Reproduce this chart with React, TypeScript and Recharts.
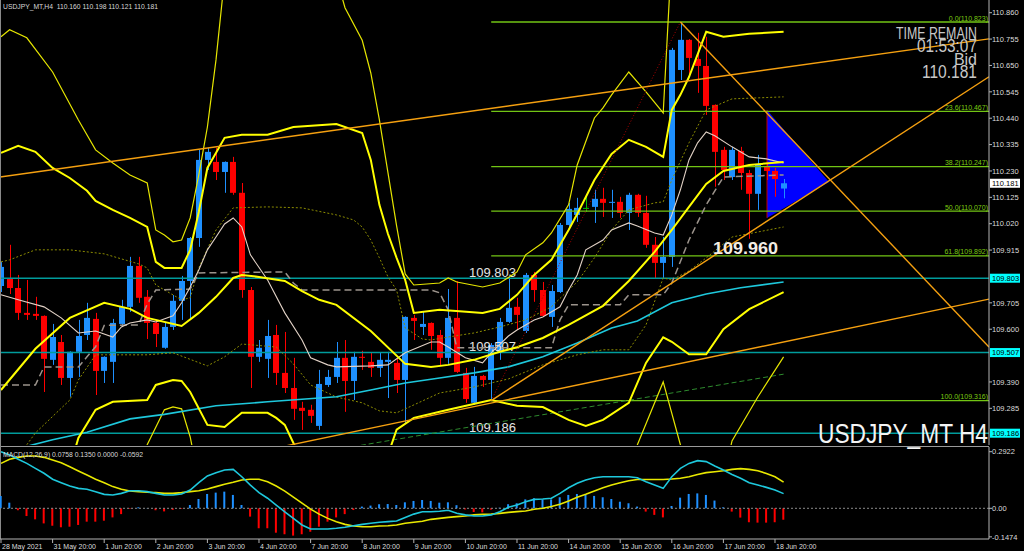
import React from "react";
import { Bar, Cell, ComposedChart, Line, ReferenceArea, ReferenceLine, XAxis, YAxis } from "recharts";

const SANS = "'Liberation Sans', Arial, sans-serif";

// H4 candles, bar 0 = 28 May 2021, bar 90 = 18 Jun 20:00
const opens = [
  109.772, 109.800, 109.764, 109.665, 109.661, 109.653, 109.478, 109.549, 109.406, 109.510,
  109.577, 109.641, 109.434, 109.470, 109.621, 109.689, 109.852, 109.729, 109.625, 109.526,
  109.609, 109.713, 109.792, 109.963, 110.274, 110.266, 110.226, 110.266, 110.143, 109.756,
  109.490, 109.482, 109.577, 109.426, 109.366, 109.287, 109.279, 109.215, 109.378, 109.410,
  109.486, 109.394, 109.490, 109.470, 109.446, 109.470, 109.466, 109.398, 109.645, 109.609,
  109.625, 109.577, 109.486, 109.645, 109.426, 109.307, 109.414, 109.398, 109.506, 109.629,
  109.689, 109.593, 109.816, 109.756, 109.649, 109.748, 110.015, 110.055, 110.083, 110.087,
  110.119, 110.103, 110.107, 110.063, 110.135, 110.063, 109.936, 109.864, 109.888, 110.632,
  110.752, 110.676, 110.648, 110.493, 110.314, 110.206, 110.310, 110.222, 110.139, 110.250,
  110.230, 110.160,
];
const highs = [
  109.868, 109.936, 109.816, 109.796, 109.729, 109.655, 109.621, 109.577, 109.512, 109.637,
  109.705, 109.665, 109.492, 109.641, 109.717, 109.888, 109.888, 109.756, 109.637, 109.629,
  109.736, 109.812, 109.967, 110.314, 110.322, 110.322, 110.268, 110.286, 110.182, 109.768,
  109.557, 109.637, 109.617, 109.589, 109.486, 109.311, 109.299, 109.438, 109.438, 109.549,
  109.557, 109.510, 109.514, 109.506, 109.506, 109.510, 109.482, 109.651, 109.657, 109.669,
  109.627, 109.597, 109.760, 109.792, 109.446, 109.450, 109.418, 109.545, 109.645, 109.808,
  109.725, 109.824, 109.828, 109.788, 109.776, 110.023, 110.103, 110.123, 110.127, 110.155,
  110.163, 110.155, 110.127, 110.143, 110.139, 110.131, 109.967, 109.967, 110.720, 110.823,
  110.755, 110.780, 110.764, 110.495, 110.326, 110.326, 110.326, 110.234, 110.294, 110.262,
  110.242, 110.198,
];
const lows = [
  109.748, 109.740, 109.637, 109.637, 109.637, 109.350, 109.458, 109.378, 109.331, 109.410,
  109.557, 109.338, 109.386, 109.386, 109.613, 109.669, 109.705, 109.561, 109.529, 109.522,
  109.597, 109.637, 109.637, 109.928, 110.234, 110.194, 110.143, 110.135, 109.725, 109.366,
  109.470, 109.406, 109.378, 109.346, 109.239, 109.199, 109.227, 109.199, 109.370, 109.386,
  109.271, 109.318, 109.438, 109.410, 109.410, 109.326, 109.346, 109.227, 109.557, 109.577,
  109.518, 109.454, 109.462, 109.426, 109.307, 109.299, 109.370, 109.316, 109.478, 109.625,
  109.597, 109.585, 109.709, 109.649, 109.609, 109.744, 110.007, 110.027, 110.067, 110.023,
  110.047, 110.043, 110.043, 109.995, 110.047, 109.924, 109.804, 109.804, 109.848, 110.592,
  110.604, 110.541, 110.453, 110.167, 110.194, 110.194, 110.155, 109.960, 110.075, 110.194,
  110.127, 110.121,
];
const closes = [
  109.848, 109.764, 109.665, 109.657, 109.653, 109.482, 109.569, 109.406, 109.510, 109.573,
  109.645, 109.434, 109.490, 109.625, 109.689, 109.852, 109.725, 109.625, 109.581, 109.609,
  109.713, 109.792, 109.963, 110.274, 110.306, 110.226, 110.266, 110.143, 109.756, 109.490,
  109.526, 109.573, 109.426, 109.366, 109.283, 109.275, 109.255, 109.382, 109.410, 109.486,
  109.394, 109.490, 109.486, 109.446, 109.478, 109.478, 109.398, 109.649, 109.633, 109.621,
  109.573, 109.486, 109.645, 109.430, 109.322, 109.414, 109.398, 109.537, 109.629, 109.685,
  109.657, 109.816, 109.756, 109.653, 109.752, 110.015, 110.079, 110.083, 110.083, 110.119,
  110.103, 110.107, 110.063, 110.135, 110.063, 109.936, 109.864, 109.888, 110.712, 110.752,
  110.680, 110.648, 110.489, 110.306, 110.234, 110.314, 110.222, 110.139, 110.258, 110.230,
  110.198, 110.181,
];

// MACD(12,26,9)
const macdMain = [
  0.292, 0.275, 0.253, 0.232, 0.206, 0.181, 0.150, 0.132, 0.115, 0.103,
  0.098, 0.086, 0.072, 0.069, 0.077, 0.091, 0.091, 0.086, 0.077, 0.069,
  0.069, 0.074, 0.094, 0.132, 0.167, 0.184, 0.198, 0.201, 0.163, 0.120,
  0.081, 0.052, 0.017, -0.018, -0.052, -0.086, -0.107, -0.107, -0.107, -0.103,
  -0.098, -0.090, -0.083, -0.077, -0.072, -0.069, -0.066, -0.047, -0.030, -0.018,
  -0.018, -0.015, -0.010, -0.026, -0.034, -0.040, -0.040, -0.034, -0.018, 0.005,
  0.017, 0.034, 0.046, 0.048, 0.052, 0.077, 0.106, 0.129, 0.146, 0.158,
  0.163, 0.163, 0.163, 0.163, 0.158, 0.137, 0.120, 0.103, 0.163, 0.206,
  0.232, 0.246, 0.241, 0.218, 0.198, 0.175, 0.155, 0.132, 0.120, 0.108,
  0.094, 0.0758,
];
const macdSignal = [
  0.232, 0.253, 0.263, 0.270, 0.270, 0.263, 0.249, 0.235, 0.215, 0.193,
  0.172, 0.150, 0.132, 0.112, 0.098, 0.089, 0.086, 0.083, 0.081, 0.077,
  0.077, 0.081, 0.086, 0.091, 0.100, 0.112, 0.124, 0.134, 0.146, 0.150,
  0.150, 0.137, 0.115, 0.089, 0.058, 0.027, -0.004, -0.030, -0.052, -0.069,
  -0.083, -0.091, -0.095, -0.095, -0.091, -0.090, -0.086, -0.077, -0.072, -0.067,
  -0.057, -0.052, -0.047, -0.043, -0.040, -0.034, -0.031, -0.030, -0.026, -0.021,
  -0.017, -0.014, -0.005, 0.0, 0.009, 0.021, 0.038, 0.057, 0.072, 0.089,
  0.106, 0.120, 0.132, 0.142, 0.149, 0.149, 0.149, 0.149, 0.151, 0.155,
  0.163, 0.175, 0.184, 0.189, 0.194, 0.201, 0.205, 0.201, 0.194, 0.180,
  0.163, 0.135,
];
const macdHist = [
  0.063, 0.029, -0.010, -0.040, -0.057, -0.078, -0.090, -0.098, -0.095, -0.086,
  -0.069, -0.069, -0.064, -0.047, -0.030, -0.003, 0.005, 0.001, -0.010, -0.016,
  -0.008, -0.003, 0.017, 0.048, 0.074, 0.081, 0.086, 0.069, 0.017, -0.043,
  -0.103, -0.103, -0.126, -0.134, -0.141, -0.134, -0.121, -0.095, -0.069, -0.047,
  -0.030, -0.009, 0.009, 0.014, 0.021, 0.022, 0.017, 0.031, 0.038, 0.043,
  0.038, 0.029, 0.031, 0.016, -0.006, -0.019, -0.021, -0.007, 0.003, 0.021,
  0.026, 0.046, 0.052, 0.046, 0.046, 0.057, 0.069, 0.074, 0.069, 0.064,
  0.057, 0.048, 0.034, 0.026, 0.009, -0.017, -0.034, -0.047, 0.012, 0.055,
  0.074, 0.077, 0.069, 0.040, 0.005, -0.017, -0.048, -0.072, -0.074, -0.074,
  -0.072, -0.059,
];

type Pt = [number, number];

// indicator lines as [bar, price]
const bbMid: Pt[] = [
  [0, 109.358], [4, 109.522], [8, 109.645], [12, 109.705], [15, 109.681], [17, 109.645], [21, 109.613],
  [23, 109.665], [25, 109.729], [27, 109.804], [28, 109.816], [30, 109.808], [33, 109.792], [35, 109.752],
  [37, 109.717], [39, 109.697], [43, 109.593], [47, 109.462], [50, 109.45], [52, 109.458], [55, 109.478],
  [58, 109.51], [60, 109.528], [63, 109.565], [66, 109.617], [70, 109.693], [73, 109.792], [76, 109.908],
  [78, 109.995], [80, 110.087], [82, 110.178], [84, 110.23], [87, 110.254], [91, 110.266],
];
const bbUp2: Pt[] = [
  [0, 110.302], [2, 110.33], [4, 110.306], [6, 110.242], [8, 110.202], [10, 110.151], [11, 110.111],
  [13, 110.075], [15, 110.043], [17, 110.007], [18, 109.868], [19, 109.844], [21, 109.844], [22, 109.916],
  [23, 110.067], [24, 110.242], [26, 110.362], [28, 110.374], [31, 110.374], [34, 110.405], [39, 110.417],
  [42, 110.381], [43, 110.274], [44, 110.095], [45, 109.979], [46, 109.884], [47, 109.796], [48, 109.665],
  [51, 109.677], [56, 109.665], [58, 109.681], [60, 109.737], [62, 109.816], [64, 109.876], [66, 109.995],
  [67, 110.059], [69, 110.194], [71, 110.298], [73, 110.354], [75, 110.326], [77, 110.286], [78, 110.473],
  [79, 110.533], [80, 110.604], [82, 110.784], [84, 110.764], [87, 110.776], [91, 110.784],
];
const bbLo2: Pt[] = [
  [8, 109.05], [9, 109.167], [11, 109.279], [13, 109.311], [17, 109.318], [18, 109.378], [20, 109.398],
  [21, 109.394], [22, 109.35], [24, 109.219], [26, 109.211], [28, 109.267], [31, 109.267], [32, 109.247],
  [33, 109.219], [34, 109.147], [36, 109.0], [44, 109.0], [46, 109.2], [48, 109.247], [52, 109.279],
  [57, 109.318], [60, 109.295], [63, 109.29], [66, 109.239], [68, 109.215], [70, 109.239], [73, 109.307],
  [75, 109.466], [77, 109.568], [78, 109.55], [80, 109.5], [82, 109.5], [84, 109.6], [87, 109.68], [91, 109.748],
];
const bbUp3: Pt[] = [
  [0, 110.764], [1, 110.792], [3, 110.76], [6, 110.624], [9, 110.433], [11, 110.314], [13, 110.262],
  [15, 110.214], [17, 110.182], [18, 109.995], [19, 109.975], [20, 109.948], [21, 109.955], [22, 110.043],
  [23, 110.214], [24, 110.405], [25, 110.672], [26, 111.0], [39, 111.0], [40, 110.88], [42, 110.75],
  [43, 110.62], [44, 110.433], [45, 110.222], [46, 110.011], [47, 109.82], [48, 109.776], [51, 109.784],
  [52, 109.804], [53, 109.788], [56, 109.768], [58, 109.784], [60, 109.828], [61, 109.896], [63, 109.944],
  [64, 109.983], [66, 110.095], [67, 110.254], [69, 110.441], [70, 110.481], [71, 110.533], [73, 110.624],
  [75, 110.545], [77, 110.461], [78, 111.1], [91, 111.1],
];
const bbLo3: Pt[] = [
  [16, 109.0], [17, 109.14], [19, 109.279], [20, 109.291], [21, 109.283], [22, 109.171], [23, 109.0],
  [73, 109.0], [74, 109.14], [77, 109.39], [79, 109.14], [80, 109.0], [84, 109.0], [85, 109.155],
  [88, 109.33], [91, 109.49],
];
const bbUp1: Pt[] = [
  [0, 109.868], [1, 109.876], [4, 109.916], [8, 109.916], [12, 109.9], [16, 109.86], [17, 109.844],
  [18, 109.776], [21, 109.717], [22, 109.725], [23, 109.844], [25, 109.995], [27, 110.083], [31, 110.087],
  [35, 110.083], [39, 110.055], [41, 110.035], [42, 110.007], [43, 109.955], [44, 109.884], [45, 109.808],
  [46, 109.756], [47, 109.605], [49, 109.561], [50, 109.557], [52, 109.569], [55, 109.585], [58, 109.609],
  [61, 109.637], [64, 109.689], [66, 109.756], [67, 109.788], [69, 109.884], [71, 109.995], [73, 110.075],
  [76, 110.103], [77, 110.107], [78, 110.194], [80, 110.342], [82, 110.473], [85, 110.517], [91, 110.525],
];
const bbLo1: Pt[] = [
  [3, 109.14], [4, 109.187], [8, 109.318], [9, 109.398], [11, 109.498], [14, 109.498], [17, 109.498],
  [20, 109.506], [24, 109.454], [26, 109.49], [28, 109.541], [32, 109.529], [34, 109.462], [36, 109.378],
  [39, 109.33], [42, 109.307], [44, 109.275], [46, 109.267], [51, 109.346], [55, 109.37], [59, 109.402],
  [63, 109.458], [67, 109.498], [70, 109.518], [73, 109.518], [75, 109.617], [77, 109.804], [78, 109.796],
  [80, 109.832], [82, 109.884], [85, 109.967], [91, 110.007],
];
const fastMa: Pt[] = [
  [0, 109.737], [2, 109.717], [5, 109.689], [7, 109.645], [9, 109.585], [11, 109.593], [13, 109.569],
  [14, 109.609], [15, 109.625], [17, 109.637], [18, 109.629], [20, 109.653], [21, 109.705], [22, 109.768],
  [23, 109.836], [24, 109.916], [25, 109.967], [26, 110.019], [27, 110.043], [28, 110.007], [29, 109.896],
  [31, 109.796], [33, 109.665], [35, 109.557], [36, 109.486], [38, 109.458], [39, 109.45], [43, 109.454],
  [45, 109.458], [47, 109.506], [50, 109.549], [51, 109.549], [52, 109.529], [54, 109.486], [56, 109.466],
  [57, 109.506], [59, 109.573], [60, 109.597], [62, 109.637], [63, 109.649], [65, 109.689], [66, 109.756],
  [67, 109.816], [68, 109.916], [70, 109.955], [71, 109.995], [73, 110.023], [74, 110.011], [76, 109.983],
  [77, 109.975], [78, 110.055], [79, 110.155], [80, 110.274], [81, 110.342], [82, 110.385], [83, 110.37],
  [85, 110.326], [87, 110.286], [89, 110.278], [91, 110.262],
];
const stepLine: Pt[] = [
  [0, 109.378], [4, 109.378], [5, 109.45], [9, 109.45], [10, 109.49], [11, 109.53], [12, 109.615],
  [16, 109.617], [17, 109.7], [18, 109.756], [22, 109.76], [23, 109.824], [33, 109.828], [34, 109.784],
  [35, 109.756], [50, 109.756], [51, 109.745], [52, 109.677], [53, 109.526], [64, 109.526], [65, 109.637],
  [66, 109.697], [72, 109.697], [73, 109.737], [77, 109.737], [78, 109.784], [80, 109.955], [82, 110.095],
  [84, 110.206], [91, 110.214],
];
const slowMa: Pt[] = [
  [2, 109.125], [6, 109.16], [10, 109.19], [15, 109.243], [19, 109.261], [25, 109.295], [31, 109.311],
  [39, 109.331], [43, 109.358], [47, 109.386], [51, 109.406], [55, 109.426], [59, 109.45], [63, 109.49],
  [67, 109.545], [71, 109.605], [74, 109.633], [78, 109.705], [82, 109.74], [86, 109.765], [91, 109.788],
];

// objects drawn on the chart
const fibLevels = [0.0, 23.6, 38.2, 50.0, 61.8, 100.0];
const fibPrices = [110.823, 110.467, 110.247, 110.07, 109.892, 109.316];
const srLevels = [109.803, 109.507, 109.186];
const bidPrice = 110.181;
const orangeLines: [Pt, Pt][] = [
  [[-0.116, 110.206], [114.884, 110.756]],
  [[30, 109.113], [114.884, 109.72]],
  [[57, 109.316], [114.884, 110.605]],
  [[79, 110.823], [114.884, 109.529]],
];
const fibDiagonal: [Pt, Pt] = [[57, 109.316], [79, 110.823]];
const greenDashed: [Pt, Pt] = [[40, 109.127], [91, 109.421]];
const triangleBars = [89.07, 96.28];
const trianglePrices = [110.043, 110.473, 110.186]; // bottom, top, apex

const dateLabels = [
  "28 May 2021", "31 May 20:00", "1 Jun 20:00", "2 Jun 20:00", "3 Jun 20:00", "4 Jun 20:00",
  "7 Jun 20:00", "8 Jun 20:00", "9 Jun 20:00", "10 Jun 20:00", "11 Jun 20:00", "14 Jun 20:00",
  "15 Jun 20:00", "16 Jun 20:00", "17 Jun 20:00", "18 Jun 20:00",
];
const dateTickBars = dateLabels.map((_, k) => k * 6);
const priceTicks = [
  110.86, 110.755, 110.65, 110.545, 110.44, 110.335, 110.23, 110.125, 110.02, 109.915,
  109.705, 109.6, 109.39, 109.285,
];
const macdTicks = [0.2922, 0, -0.1474];

const XMIN = -0.116;
const XMAX = 114.884;

const rows: any[] = opens.map((o, i) => ({
  i, o, h: highs[i], l: lows[i], c: closes[i],
  hist: macdHist[i], macd: macdMain[i], sig: macdSignal[i],
}));

const series = [
  { key: "lo3", pts: bbLo3, stroke: "#e6e600", width: 1.2 },
  { key: "up3", pts: bbUp3, stroke: "#e6e600", width: 1.2 },
  { key: "up1", pts: bbUp1, stroke: "#8c8c00", width: 1, dash: "2 2" },
  { key: "lo1", pts: bbLo1, stroke: "#8c8c00", width: 1, dash: "2 2" },
  { key: "slow", pts: slowMa, stroke: "#1ec8dc", width: 1.6 },
  { key: "step", pts: stepLine, stroke: "#9c948c", width: 1.5, dash: "7 4" },
  { key: "fast", pts: fastMa, stroke: "#e2d2c6", width: 1.1 },
  { key: "mid", pts: bbMid, stroke: "#ffff00", width: 2 },
  { key: "up2", pts: bbUp2, stroke: "#ffff00", width: 2 },
  { key: "lo2", pts: bbLo2, stroke: "#ffff00", width: 2 },
];
series.forEach((s) => s.pts.forEach(([i, v]) => { rows[i][s.key] = v; }));

function Candle(props: any) {
  const { x, y, width, height, payload } = props;
  if (!payload || payload.o == null) return null;
  const { o, h, l, c } = payload;
  const color = c === o ? "#00c000" : c > o ? "#1e90ff" : "#ff0000";
  const k = h === l ? 0 : height / (h - l);
  const cx = Math.round(x + width / 2) + 0.5;
  const top = y + (h - Math.max(o, c)) * k;
  const bot = y + (h - Math.min(o, c)) * k;
  return (
    <g>
      <line x1={cx} x2={cx} y1={y} y2={y + height} stroke={color} strokeWidth={1} />
      <rect x={cx - 3.5} y={top} width={6} height={Math.max(bot - top, 1)} fill={color} />
    </g>
  );
}

function Triangle(props: any) {
  const { x, y, width, height } = props;
  const [bottom, top, apex] = trianglePrices;
  const apexY = y + (height * (top - apex)) / (top - bottom);
  return (
    <g>
      <polygon points={`${x},${y} ${x},${y + height} ${x + width},${apexY}`} fill="#0000ff" />
      <line x1={x} x2={x} y1={y} y2={y + height} stroke="#c00000" strokeWidth={1} />
    </g>
  );
}

function vbOf(props: any) {
  const vb = props.viewBox || {};
  const yy = vb.y1 ?? vb.y;
  const right = vb.x2 ?? vb.x + vb.width;
  return { yy, right };
}

function FibTag(props: any) {
  const { yy, right } = vbOf(props);
  return (
    <text x={right - 1} y={yy - 1.5} textAnchor="end" fontSize={7} fill="#7ccc10" fontFamily={SANS}>
      {props.text}
    </text>
  );
}

function LevelTag(props: any) {
  const { yy, right } = vbOf(props);
  return (
    <g>
      <text x={469} y={yy - 1.3} fontSize={13} fill="#e4e4e4" fontFamily={SANS}>{props.text}</text>
      <rect x={right + 1} y={yy - 4.5} width={30} height={9} fill="#00ffff" />
      <text x={right + 3} y={yy + 2.7} fontSize={7.5} fill="#000" fontFamily={SANS}>{props.text}</text>
    </g>
  );
}

function BidTag(props: any) {
  const { yy, right } = vbOf(props);
  return (
    <g>
      <rect x={right + 1} y={yy - 4.5} width={30} height={9} fill="#ffffff" />
      <text x={right + 3} y={yy + 2.7} fontSize={7.5} fill="#000" fontFamily={SANS}>{props.text}</text>
    </g>
  );
}

function PriceTick(props: any) {
  const { x, y, payload } = props;
  return (
    <text x={x} y={y + 2.7} fontSize={7.5} fill="#dcdcdc" fontFamily={SANS}>
      {Number(payload.value).toFixed(3)}
    </text>
  );
}

function MacdTick(props: any) {
  const { x, y, payload } = props;
  const v = Number(payload.value);
  const s = v === 0 ? "0.00" : v.toFixed(4);
  return (
    <text x={x} y={y + 2.7} fontSize={7.5} fill="#dcdcdc" fontFamily={SANS}>{s}</text>
  );
}

function DateTick(props: any) {
  const { x, y, payload } = props;
  const label = dateLabels[dateTickBars.indexOf(payload.value)];
  return (
    <text x={x + 1} y={y + 5.5} fontSize={7} fill="#dcdcdc" fontFamily={SANS}>{label}</text>
  );
}

export default function App() {
  return (
    <div style={{ position: "absolute", left: 0, top: 0, width: 1024, height: 551, background: "#000", overflow: "hidden" }}>
      <div style={{ position: "absolute", left: 0, top: 0 }}>
        <ComposedChart width={1024} height={446} data={rows} margin={{ top: 0, right: 0, bottom: 1, left: 0 }}>
          <XAxis dataKey="i" type="number" domain={[XMIN, XMAX]} allowDataOverflow hide />
          <YAxis
            orientation="right"
            width={35}
            domain={[109.139, 110.9106]}
            allowDataOverflow
            ticks={priceTicks}
            interval={0}
            tick={<PriceTick />}
            tickSize={3}
            tickMargin={0}
            axisLine={{ stroke: "#b4b4b4" }}
            tickLine={{ stroke: "#b4b4b4" }}
          />
          {srLevels.map((p) => (
            <ReferenceLine key={p} y={p} stroke="#009c9c" strokeWidth={1.4} label={<LevelTag text={p.toFixed(3)} />} />
          ))}
          {fibPrices.map((p, k) => (
            <ReferenceLine
              key={"f" + k}
              segment={[{ x: 57, y: p }, { x: XMAX, y: p }]}
              stroke="#72c414"
              strokeWidth={1.3}
              ifOverflow="hidden"
              label={<FibTag text={`${fibLevels[k].toFixed(1)}(${p.toFixed(3)})`} />}
            />
          ))}
          <ReferenceLine
            segment={[{ x: greenDashed[0][0], y: greenDashed[0][1] }, { x: greenDashed[1][0], y: greenDashed[1][1] }]}
            stroke="#2e8b2e"
            strokeDasharray="5 3"
            ifOverflow="hidden"
          />
          <Bar dataKey={(d: any) => [d.l, d.h]} barSize={7} shape={(p: any) => <Candle {...p} />} isAnimationActive={false} />
          {series.map((s) => (
            <Line
              key={s.key}
              dataKey={s.key}
              type="linear"
              stroke={s.stroke}
              strokeWidth={s.width}
              strokeDasharray={s.dash}
              dot={false}
              activeDot={false}
              connectNulls
              isAnimationActive={false}
            />
          ))}
          <ReferenceLine
            segment={[{ x: fibDiagonal[0][0], y: fibDiagonal[0][1] }, { x: fibDiagonal[1][0], y: fibDiagonal[1][1] }]}
            stroke="#b00000"
            strokeDasharray="1 2"
            ifOverflow="hidden"
          />
          <ReferenceArea
            x1={triangleBars[0]}
            x2={triangleBars[1]}
            y1={trianglePrices[0]}
            y2={trianglePrices[1]}
            ifOverflow="visible"
            shape={(p: any) => <Triangle {...p} />}
          />
          {orangeLines.map(([a, b], k) => (
            <ReferenceLine
              key={"o" + k}
              segment={[{ x: a[0], y: a[1] }, { x: b[0], y: b[1] }]}
              stroke="#f5a010"
              strokeWidth={1.4}
              ifOverflow="hidden"
            />
          ))}
          <ReferenceLine y={bidPrice} stroke="none" label={<BidTag text={bidPrice.toFixed(3)} />} />
        </ComposedChart>
      </div>
      <div style={{ position: "absolute", left: 0, top: 446, width: 989, height: 1, background: "#9a9a9a" }} />
      <div style={{ position: "absolute", left: 0, top: 0, width: 1, height: 539, background: "#8a8a8a" }} />
      <div style={{ position: "absolute", left: 0, top: 447 }}>
        <ComposedChart width={1024} height={104} data={rows} margin={{ top: 0, right: 0, bottom: 0, left: 0 }}>
          <XAxis
            dataKey="i"
            type="number"
            domain={[XMIN, XMAX]}
            allowDataOverflow
            ticks={dateTickBars}
            interval={0}
            tick={<DateTick />}
            tickSize={4}
            tickMargin={0}
            height={12}
            axisLine={{ stroke: "#b4b4b4" }}
            tickLine={{ stroke: "#b4b4b4" }}
          />
          <YAxis
            orientation="right"
            width={35}
            domain={[-0.1585, 0.3165]}
            allowDataOverflow
            ticks={macdTicks}
            interval={0}
            tick={<MacdTick />}
            tickSize={3}
            tickMargin={0}
            axisLine={{ stroke: "#b4b4b4" }}
            tickLine={{ stroke: "#b4b4b4" }}
          />
          <ReferenceLine y={0} stroke="#8a8a8a" strokeDasharray="2 2" />
          <Bar dataKey="hist" barSize={2} isAnimationActive={false}>
            {rows.map((r, k) => (
              <Cell key={k} fill={r.hist >= 0 ? "#1e90ff" : "#ff0000"} />
            ))}
          </Bar>
          <Line dataKey="sig" type="linear" stroke="#e8e800" strokeWidth={1.6} dot={false} activeDot={false} isAnimationActive={false} />
          <Line dataKey="macd" type="linear" stroke="#1ec8dc" strokeWidth={1.6} dot={false} activeDot={false} isAnimationActive={false} />
        </ComposedChart>
      </div>
      <svg width={1024} height={551} style={{ position: "absolute", left: 0, top: 0, pointerEvents: "none" }}>
        <text x={3} y={9} fontSize={8} fill="#d8d8d8" fontFamily={SANS} textLength={155} lengthAdjust="spacingAndGlyphs" style={{ whiteSpace: "pre" }}>
          {"USDJPY_MT,H4  110.160 110.198 110.121 110.181"}
        </text>
        <text x={3} y={456.5} fontSize={8} fill="#d8d8d8" fontFamily={SANS} textLength={140} lengthAdjust="spacingAndGlyphs">
          MACD(12,26,9) 0.0758 0.1350 0.0000 -0.0592
        </text>
        <text x={977} y={39} textAnchor="end" fontSize={16} fill="#c8c8c8" fontFamily={SANS} textLength={81} lengthAdjust="spacingAndGlyphs">TIME REMAIN</text>
        <text x={977} y={52} textAnchor="end" fontSize={18} fill="#c8c8c8" fontFamily={SANS} textLength={60} lengthAdjust="spacingAndGlyphs">01:53:07</text>
        <text x={977} y={65} textAnchor="end" fontSize={16} fill="#c8c8c8" fontFamily={SANS}>Bid</text>
        <text x={977} y={78} textAnchor="end" fontSize={18} fill="#c8c8c8" fontFamily={SANS} textLength={55} lengthAdjust="spacingAndGlyphs">110.181</text>
        <text x={713} y={254} fontSize={17} fontWeight="bold" fill="#f2ece4" fontFamily={SANS} textLength={65} lengthAdjust="spacingAndGlyphs">109.960</text>
        <text x={818} y={443} fontSize={27} fill="#f4f4f4" fontFamily={SANS} textLength={170} lengthAdjust="spacingAndGlyphs">USDJPY_MT H4</text>
      </svg>
    </div>
  );
}
